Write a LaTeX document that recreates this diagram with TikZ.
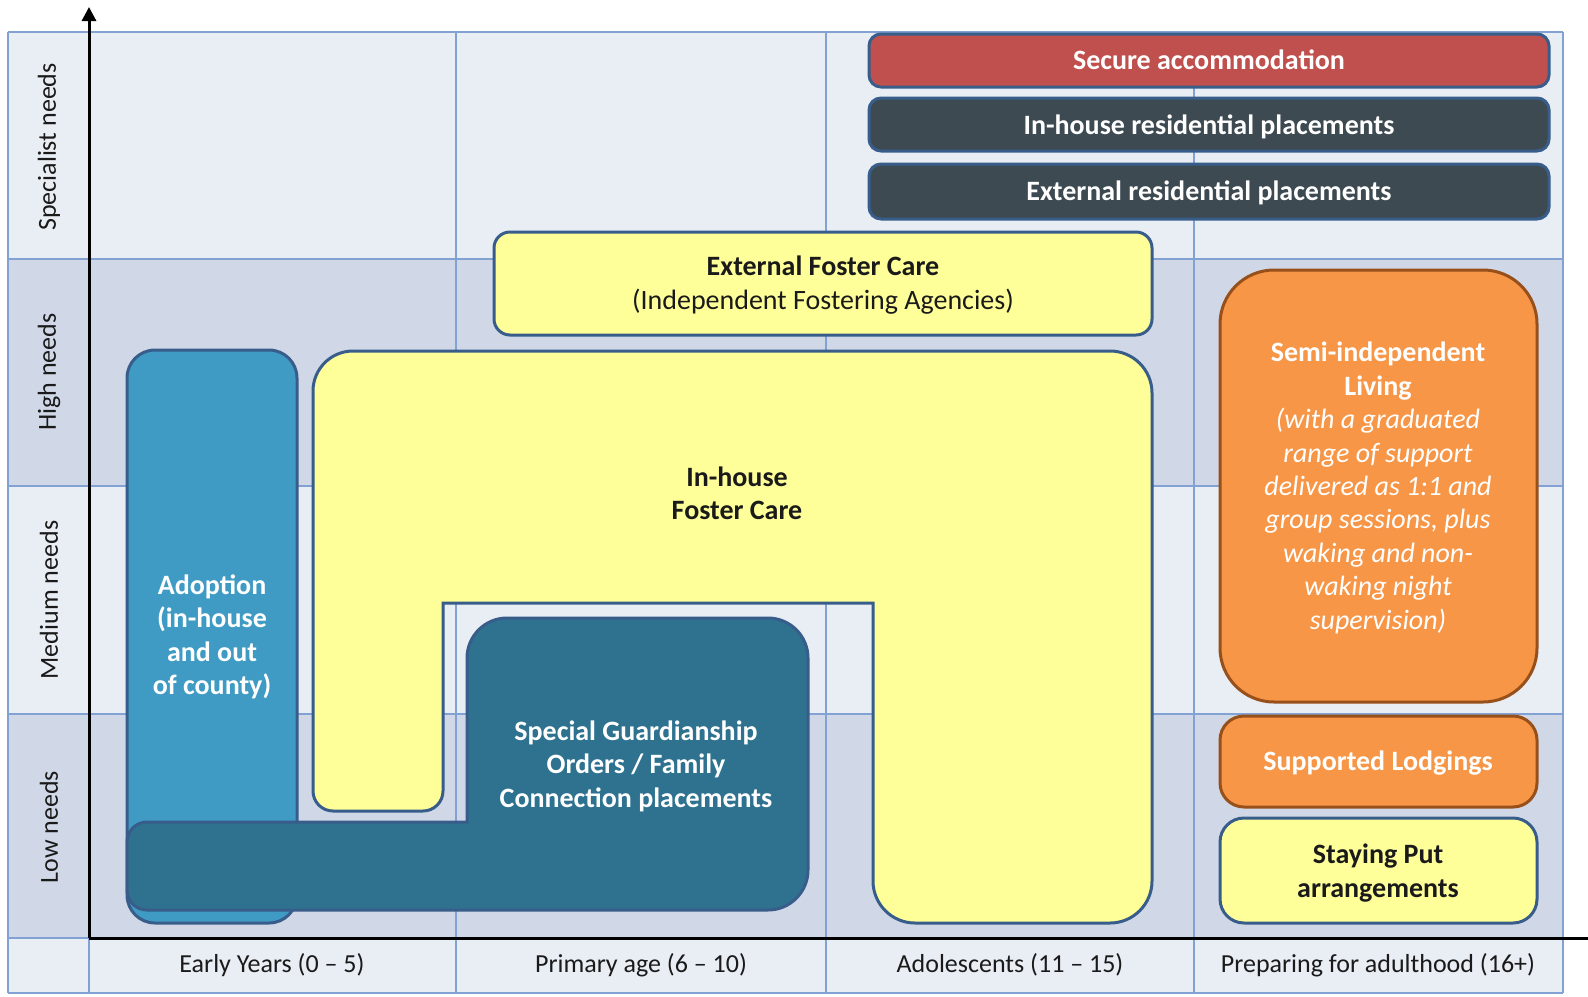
\documentclass[tikz,border=0pt]{standalone}
\usepackage{fontspec}
\setmainfont{Carlito}
\usetikzlibrary{arrows.meta}
\definecolor{rowlight}{HTML}{E9EDF4}
\definecolor{rowdark}{HTML}{D0D8E8}
\definecolor{gridc}{HTML}{82A2D4}
\definecolor{shb}{HTML}{385D8A}
\definecolor{yel}{HTML}{FFFF99}
\definecolor{adopt}{HTML}{3F9BC4}
\definecolor{sgoc}{HTML}{2E7290}
\definecolor{slate}{HTML}{3D4A52}
\definecolor{securec}{HTML}{C0504D}
\definecolor{orangec}{HTML}{F79646}
\definecolor{orangeb}{HTML}{98501A}
\definecolor{ink}{HTML}{1A1A1A}
\tikzset{
  gridl/.style={draw=gridc, line width=1pt},
  sh/.style={draw=shb, line width=1.5pt},
  osh/.style={draw=orangeb, line width=1.5pt, fill=orangec},
  axisl/.style={draw=black, line width=1.5pt},
  txt/.style={inner sep=0pt, align=center, font=\fontsize{14}{16.7}\selectfont},
  wbold/.style={txt, text=white, font=\fontsize{14}{16.7}\selectfont\bfseries},
  kbold/.style={txt, text=ink, font=\fontsize{14}{16.7}\selectfont\bfseries},
  axlab/.style={inner sep=0pt, align=center, text=ink, font=\fontsize{13}{16.7}\selectfont},
}
\begin{document}
\begin{tikzpicture}[x=0.5pt,y=-0.5pt]
\useasboundingbox[fill=white] (0,0) rectangle (1588,996);
% row bands
\fill[rowlight] (8,32) rectangle (1563,259);
\fill[rowdark] (8,259) rectangle (1563,486);
\fill[rowlight] (8,486) rectangle (1563,714);
\fill[rowdark] (8,714) rectangle (1563,938);
\fill[rowlight] (8,938) rectangle (1563,993);
% grid
\foreach \x in {8,89,456,826,1194,1563} \draw[gridl] (\x,32) -- (\x,993);
\foreach \y in {32,259,486,714,938,993} \draw[gridl] (8,\y) -- (1563,\y);

% specialist bars
\draw[sh, fill=securec, rounded corners=6pt] (869,34) rectangle (1549,87);
\draw[sh, fill=slate, rounded corners=6pt] (869,98) rectangle (1549,151);
\draw[sh, fill=slate, rounded corners=6pt] (869,164) rectangle (1549,219);
\node[wbold] (secure) at (1209,60) {Secure accommodation};
\node[wbold] (inres) at (1209,127) {In-house residential placements};
\node[wbold] (exres) at (1209,193) {External residential placements};

% external foster care
\draw[sh, fill=yel, rounded corners=8pt] (494,232) rectangle (1152,335);
\node[txt, text=ink] (efc) at (823,285) {\textbf{External Foster Care}\\(Independent Fostering Agencies)};

% in-house foster care (U shape)
\draw[sh, fill=yel] (353,351) -- (1110,351)
  arc[start angle=270, end angle=360, radius=42] -- (1152,881)
  arc[start angle=0, end angle=90, radius=42] -- (915,923)
  arc[start angle=90, end angle=180, radius=42] -- (873,603) -- (443,603) -- (443,791)
  arc[start angle=0, end angle=90, radius=20] -- (333,811)
  arc[start angle=90, end angle=180, radius=20] -- (313,391)
  arc[start angle=180, end angle=270, radius=40] -- cycle;
\node[kbold] (ihfc) at (737,493) {In-house\\Foster Care};

% adoption
\draw[sh, fill=adopt, rounded corners=14pt] (127,350) rectangle (297,923);
% SGO
\draw[sh, fill=sgoc] (467,822) -- (467,658)
  arc[start angle=180, end angle=270, radius=40] -- (768,618)
  arc[start angle=270, end angle=360, radius=40] -- (808,870)
  arc[start angle=0, end angle=90, radius=40] -- (147,910)
  arc[start angle=90, end angle=180, radius=20] -- (127,842)
  arc[start angle=180, end angle=270, radius=20] -- cycle;
\node[wbold] (adoption) at (212,637) {Adoption\\(in-house\\and out\\of county)};
\node[wbold] (sgo) at (636,766) {Special Guardianship\\Orders / Family\\Connection placements};

% preparing for adulthood column
\draw[osh, rounded corners=27pt] (1220,270) rectangle (1537,702);
\draw[osh, rounded corners=12pt] (1220,716) rectangle (1537,807);
\draw[sh, fill=yel, rounded corners=12pt] (1220,818) rectangle (1537,923);
\node[txt, text=white] (semi) at (1378,488) {\textbf{Semi-independent}\\\textbf{Living}\\\textit{(with a graduated}\\\textit{range of support}\\\textit{delivered as 1:1 and}\\\textit{group sessions, plus}\\\textit{waking and non-}\\\textit{waking night}\\\textit{supervision)}};
\node[wbold] (supp) at (1378,763) {Supported Lodgings};
\node[kbold] (stay) at (1378,873) {Staying Put\\arrangements};

% axes
\coordinate (origin) at (89,938);
\coordinate (ytop) at (89,7);
\coordinate (xend) at (1588,938);
\draw[axisl, -{Triangle[length=7pt,width=7pt]}] (origin) -- (ytop);
\draw[axisl] (origin) -- (xend);

% row labels
\node[axlab, rotate=90] (rspec) at (49,147) {Specialist needs};
\node[axlab, rotate=90] (rhigh) at (49,372) {High needs};
\node[axlab, rotate=90] (rmed) at (49,600) {Medium needs};
\node[axlab, rotate=90] (rlow) at (49,827) {Low needs};
% column labels
\node[axlab] (cearly) at (272,965) {Early Years (0 – 5)};
\node[axlab] (cprim) at (641,965) {Primary age (6 – 10)};
\node[axlab] (cadol) at (1010,965) {Adolescents (11 – 15)};
\node[axlab] (cprep) at (1378,965) {Preparing for adulthood (16+)};
\end{tikzpicture}
\end{document}
